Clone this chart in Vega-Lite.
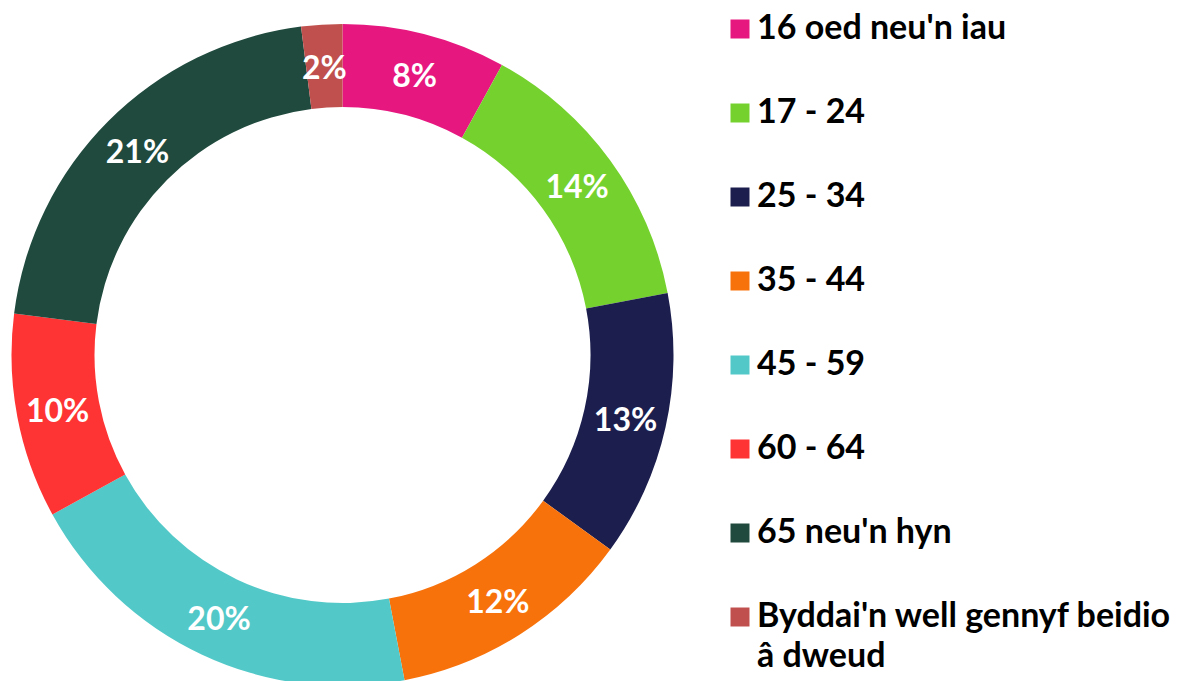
{
  "$schema": "https://vega.github.io/schema/vega-lite/v6.json",
  "width": 685,
  "height": 710,
  "padding": 0,
  "autosize": {"type": "pad"},
  "background": "white",
  "config": {"view": {"stroke": null}, "font": "Lato", "style": {"guide-label": {"lineHeight": 40}}},
  "data": {"values": [
    {"group": "16 oed neu'n iau", "pct": 0.08, "order": 1},
    {"group": "17 - 24", "pct": 0.14, "order": 2},
    {"group": "25 - 34", "pct": 0.13, "order": 3},
    {"group": "35 - 44", "pct": 0.12, "order": 4},
    {"group": "45 - 59", "pct": 0.20, "order": 5},
    {"group": "60 - 64", "pct": 0.10, "order": 6},
    {"group": "65 neu'n hyn", "pct": 0.21, "order": 7},
    {"group": "Byddai'n well gennyf beidio â dweud", "pct": 0.02, "order": 8}
  ]},
  "encoding": {
    "theta": {"field": "pct", "type": "quantitative", "stack": true},
    "order": {"field": "order", "type": "quantitative"},
    "color": {
      "field": "group",
      "type": "nominal",
      "sort": {"field": "order"},
      "scale": {
        "domain": ["16 oed neu'n iau", "17 - 24", "25 - 34", "35 - 44", "45 - 59", "60 - 64", "65 neu'n hyn", "Byddai'n well gennyf beidio â dweud"],
        "range": ["#E6177F", "#75D22E", "#1C1F4E", "#F8720C", "#52C9C8", "#FE3333", "#1F4A3D", "#C0504D"]
      },
      "legend": {
        "title": null,
        "orient": "none",
        "legendX": 723,
        "legendY": 12,
        "padding": 0,
        "symbolType": "square",
        "symbolSize": 361,
        "symbolStrokeWidth": 0,
        "labelFont": "Lato",
        "labelFontWeight": "bold",
        "labelFontSize": 34,
        "labelColor": "#000000",
        "labelOffset": 0,
        "labelLimit": 500,
        "rowPadding": 50,
        "labelExpr": "datum.label == \"Byddai'n well gennyf beidio â dweud\" ? [\"Byddai'n well gennyf beidio\", \"â dweud\"] : datum.label"
      }
    }
  },
  "layer": [
    {"mark": {"type": "arc", "outerRadius": 331, "innerRadius": 248}},
    {
      "mark": {"type": "text", "radius": 290, "dy": 3, "font": "Lato", "fontWeight": "bold", "fontSize": 32, "fill": "white"},
      "encoding": {
        "text": {"field": "pct", "type": "quantitative", "format": ".0%"},
        "color": {"value": "white"}
      }
    }
  ]
}
